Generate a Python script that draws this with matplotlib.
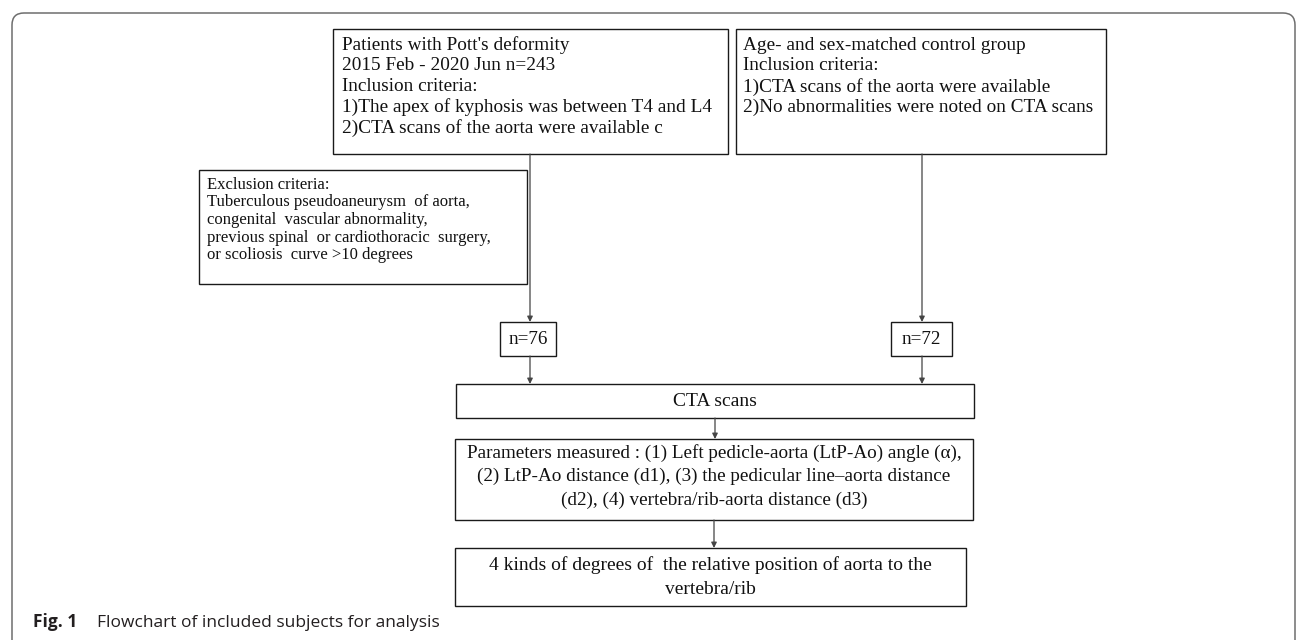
import matplotlib
matplotlib.use("Agg")
import matplotlib.pyplot as plt
from matplotlib.patches import Rectangle, FancyBboxPatch

# box texts
patients_lines = [
    "Patients with Pott's deformity",
    "2015 Feb - 2020 Jun n=243",
    "Inclusion criteria:",
    "1)The apex of kyphosis was between T4 and L4",
    "2)CTA scans of the aorta were available c",
]
control_lines = [
    "Age- and sex-matched control group",
    "Inclusion criteria:",
    "1)CTA scans of the aorta were available",
    "2)No abnormalities were noted on CTA scans",
]
exclusion_lines = [
    "Exclusion criteria:",
    "Tuberculous pseudoaneurysm  of aorta,",
    "congenital  vascular abnormality,",
    "previous spinal  or cardiothoracic  surgery,",
    "or scoliosis  curve >10 degrees",
]
group_counts = ["n=76", "n=72"]
scan_label = "CTA scans"
params_lines = [
    "Parameters measured : (1) Left pedicle-aorta (LtP-Ao) angle (\u03b1),",
    "(2) LtP-Ao distance (d1), (3) the pedicular line\u2013aorta distance",
    "(d2), (4) vertebra/rib-aorta distance (d3)",
]
kinds_lines = [
    "4 kinds of degrees of  the relative position of aorta to the",
    "vertebra/rib",
]
caption_bold = "Fig. 1"
caption_text = "Flowchart of included subjects for analysis"

SERIF = "Liberation Serif"
EDGE = "#1a1a1a"
LINE = "#444444"

fig = plt.figure(figsize=(12.96, 6.4), dpi=100)
ax = fig.add_axes([0, 0, 1, 1])
ax.set_xlim(0, 1296)
ax.set_ylim(640, 0)
ax.axis("off")

# outer rounded frame
frame = FancyBboxPatch((12, 13), 1283, 640, boxstyle="round,pad=0,rounding_size=12",
                       fc="white", ec="#6e6e6e", lw=1.1)
ax.add_patch(frame)


def box(x0, y0, x1, y1):
    ax.add_patch(Rectangle((x0, y0), x1 - x0, y1 - y0, fc="white", ec=EDGE, lw=1.0))


def arrow(x, y0, y1):
    ax.annotate("", xy=(x, y1), xytext=(x, y0),
                arrowprops=dict(arrowstyle="-|>", color=LINE, lw=0.9,
                                mutation_scale=8, shrinkA=0, shrinkB=0))


def left_lines(lines, x, y, step, size):
    for i, s in enumerate(lines):
        ax.text(x, y + i * step, s, ha="left", va="center", fontsize=size,
                family=SERIF, color="#111111")


def center_lines(lines, x, y, step, size):
    for i, s in enumerate(lines):
        ax.text(x, y + i * step, s, ha="center", va="center", fontsize=size,
                family=SERIF, color="#111111")


# top boxes
box(333, 29, 728, 154)
left_lines(patients_lines, 342, 45, 20.8, 13.9)
box(736, 29, 1106, 154)
left_lines(control_lines, 743, 45, 20.8, 13.9)

# connectors from top boxes
arrow(530, 154, 322)
arrow(922, 154, 322)

# exclusion box
box(199, 170, 527, 284)
left_lines(exclusion_lines, 207, 185, 17.5, 12)

# group counts
box(500, 322, 556, 356)
box(891, 322, 952, 356)
ax.text(528, 339, group_counts[0], ha="center", va="center", fontsize=13.8,
        family=SERIF, color="#111111")
ax.text(921, 339, group_counts[1], ha="center", va="center", fontsize=13.8,
        family=SERIF, color="#111111")

arrow(530, 356, 384)
arrow(922, 356, 384)

# CTA scans
box(456, 384, 974, 418)
center_lines([scan_label], 715, 401, 0, 14)
arrow(715, 418, 439)

# parameters
box(455, 439, 973, 520)
center_lines(params_lines, 714, 453, 23.5, 13.8)
arrow(714, 520, 548)

# result
box(455, 548, 966, 606)
center_lines(kinds_lines, 710, 565, 24, 14)

# caption
ax.text(33, 627, caption_bold, ha="left", va="baseline", fontsize=12.5,
        family="Open Sans", fontweight="bold", color="#231f20")
ax.text(97, 627, caption_text, ha="left", va="baseline", fontsize=12.5,
        family="Open Sans", color="#231f20")

plt.savefig("out.png", dpi=100)
